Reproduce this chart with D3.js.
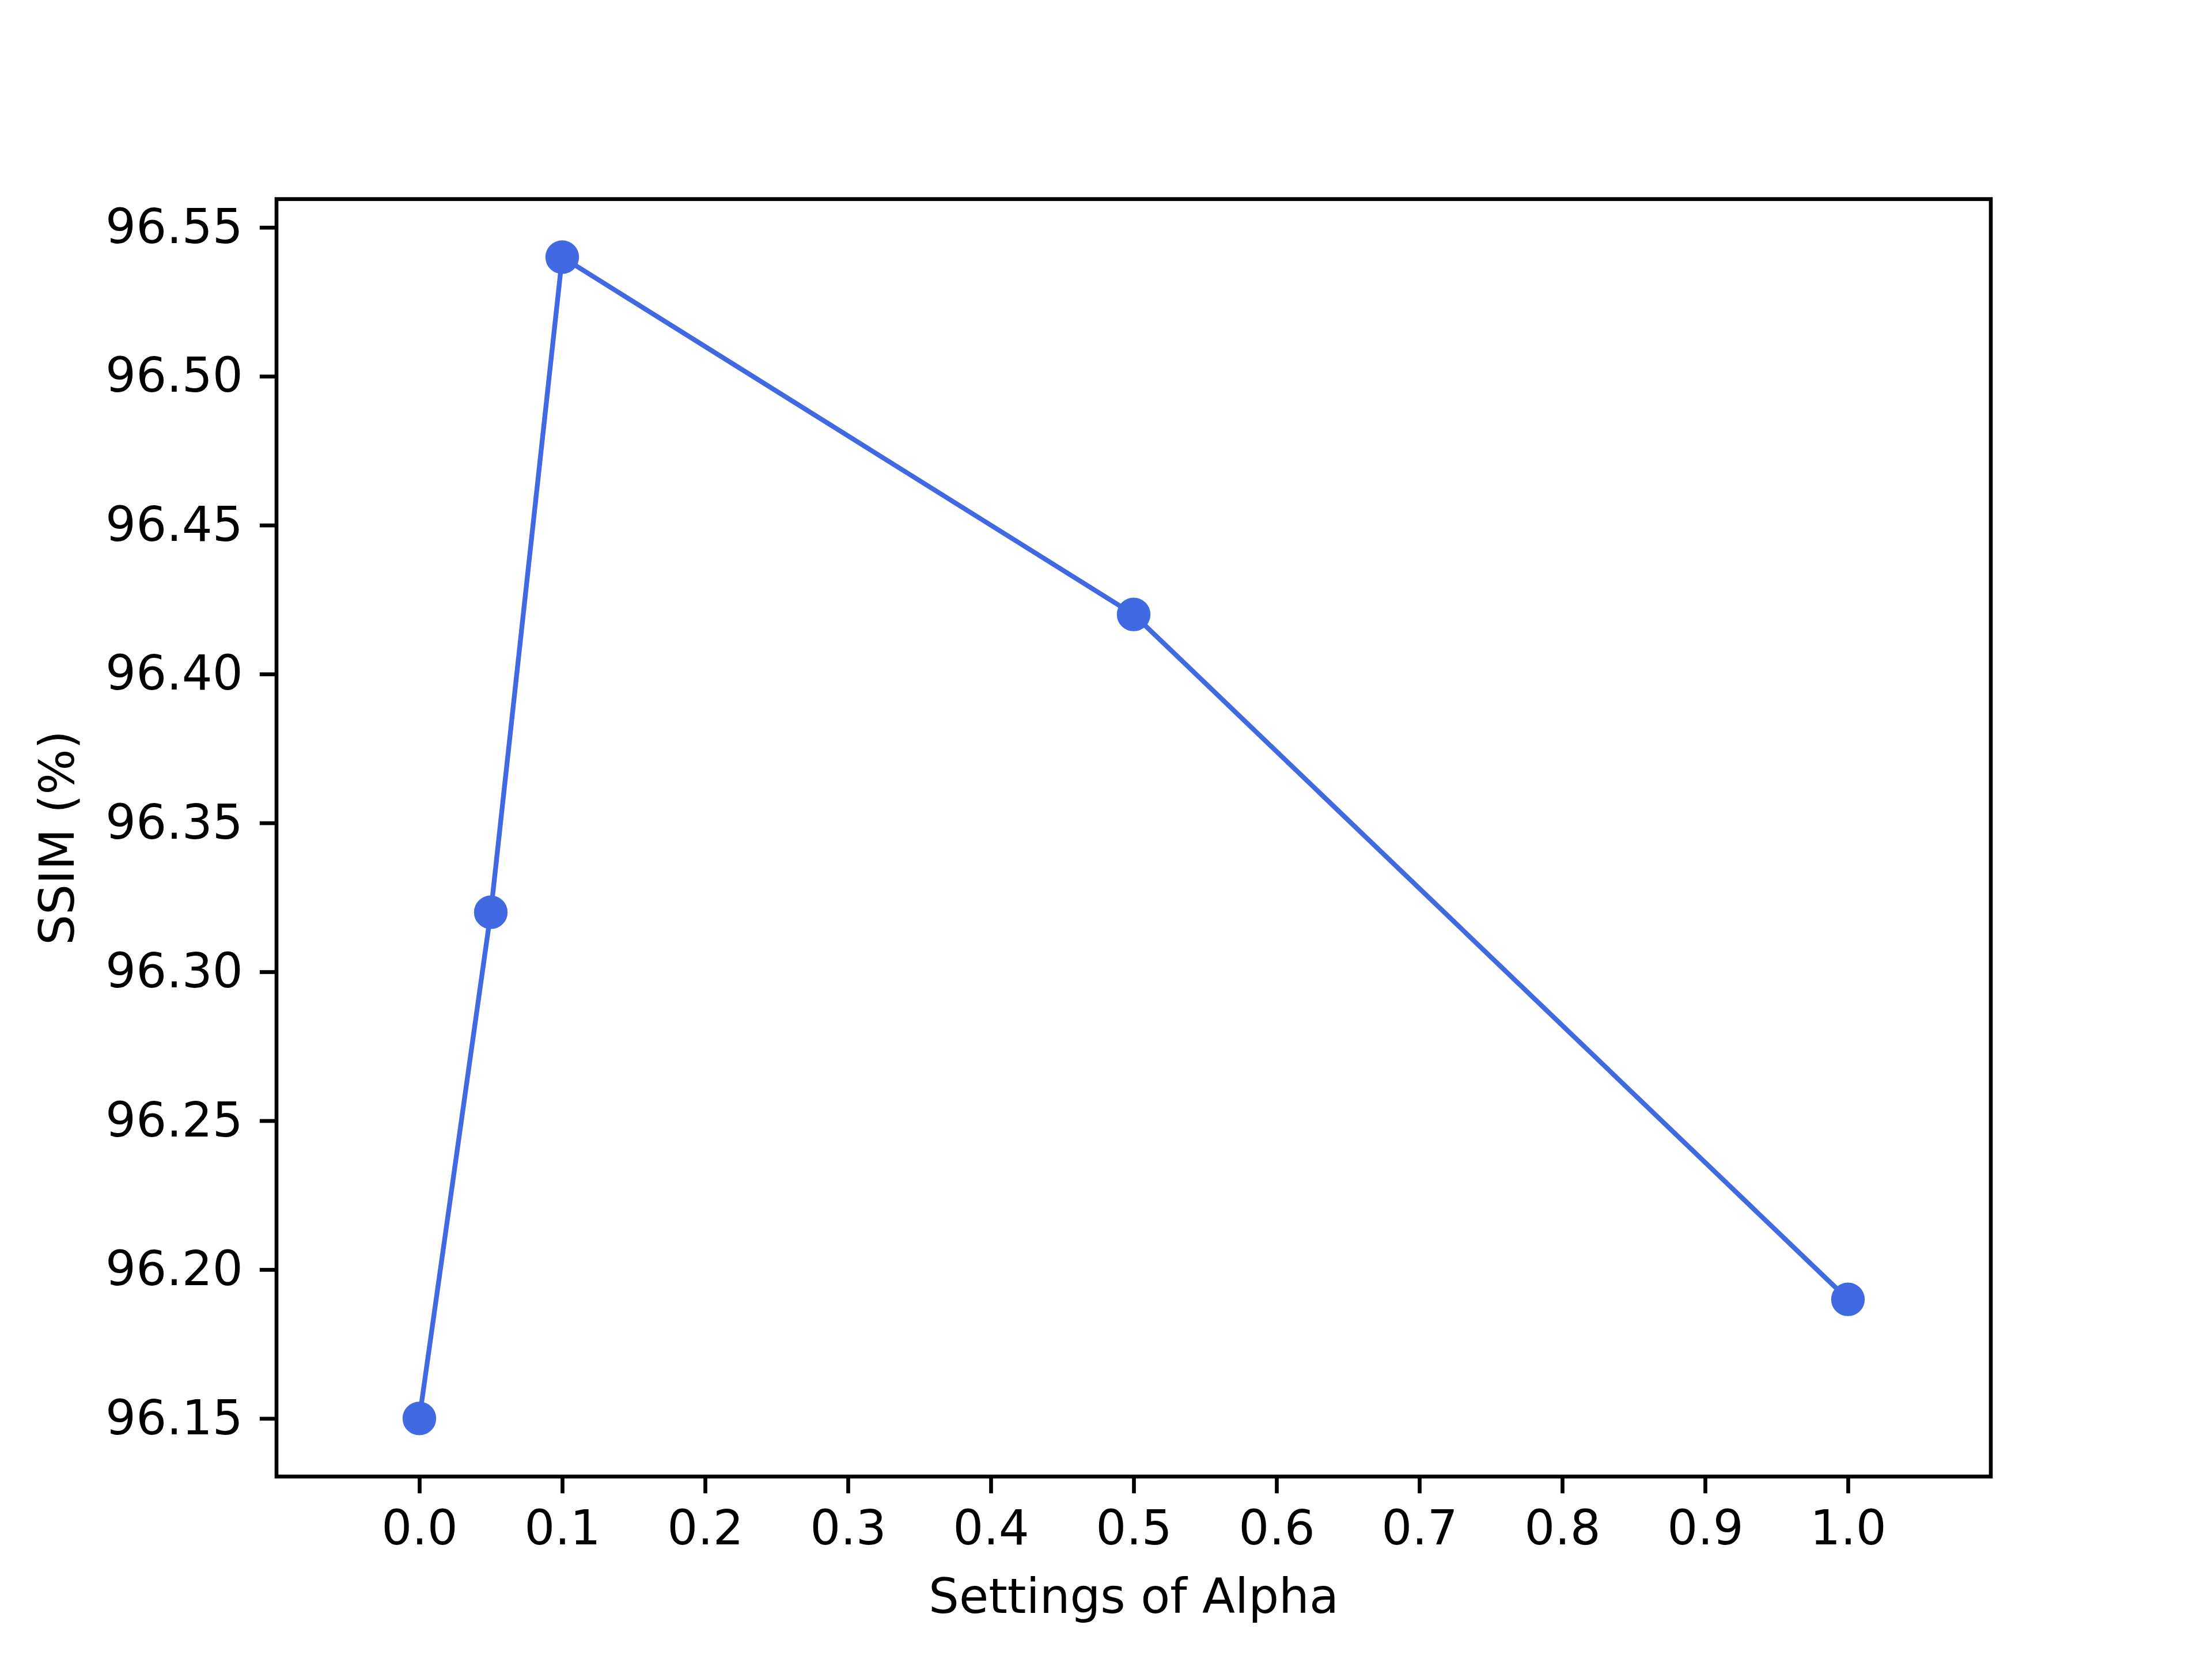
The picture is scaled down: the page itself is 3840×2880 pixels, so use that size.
<!DOCTYPE html>
<html>
<head>
<meta charset="utf-8">
<script src="https://cdn.jsdelivr.net/npm/d3@7/dist/d3.min.js"></script>
<style>
html,body{margin:0;padding:0;background:#fff;}
svg{display:block;}
text{font-family:"DejaVu Sans",sans-serif;}
</style>
</head>
<body>
<script>
const alphaValues = [0, 0.05, 0.1, 0.5, 1.0];
const ssimValues = [96.15, 96.32, 96.54, 96.42, 96.19];
const xTicks = [0.0, 0.1, 0.2, 0.3, 0.4, 0.5, 0.6, 0.7, 0.8, 0.9, 1.0];
const yTicks = [96.15, 96.20, 96.25, 96.30, 96.35, 96.40, 96.45, 96.50, 96.55];
const xLabel = "Settings of Alpha";
const yLabel = "SSIM (%)";

const W = 3840, H = 2880;
const m = {left: 480, right: 3456, top: 345.6, bottom: 2563.2};
const fs = 83.33;
const color = "#4169E1";

const svg = d3.select("body").append("svg").attr("width", W).attr("height", H);

const x = d3.scaleLinear().domain([-0.1, 1.1]).range([m.left, m.right]);
const yMin = d3.min(ssimValues), yMax = d3.max(ssimValues), pad = (yMax - yMin) * 0.05;
const y = d3.scaleLinear().domain([yMin - pad, yMax + pad]).range([m.bottom, m.top]);

const tickLen = 29.17, tickW = 6.67;

const xAxis = svg.append("g").attr("transform", `translate(0,${m.bottom})`)
  .call(d3.axisBottom(x).tickValues(xTicks).tickFormat(d3.format(".1f")).tickSize(tickLen).tickPadding(29.17));
const yAxis = svg.append("g").attr("transform", `translate(${m.left},0)`)
  .call(d3.axisLeft(y).tickValues(yTicks).tickFormat(d3.format(".2f")).tickSize(tickLen).tickPadding(29.17));
[xAxis, yAxis].forEach(a => {
  a.select(".domain").remove();
  a.selectAll(".tick line").attr("stroke", "#000").attr("stroke-width", tickW);
  a.selectAll(".tick text").attr("fill", "#000").style("font-size", fs + "px").style("font-family", "DejaVu Sans");
});

const line = d3.line().x((d, i) => x(alphaValues[i])).y(d => y(d));
svg.append("path").datum(ssimValues).attr("d", line)
  .attr("fill", "none").attr("stroke", color).attr("stroke-width", 8.33).attr("stroke-linejoin", "round");

svg.selectAll("circle.pt").data(ssimValues).enter().append("circle")
  .attr("cx", (d, i) => x(alphaValues[i])).attr("cy", d => y(d)).attr("r", 25)
  .attr("fill", color).attr("stroke", color).attr("stroke-width", 8.33);

svg.append("rect").attr("x", m.left).attr("y", m.top)
  .attr("width", m.right - m.left).attr("height", m.bottom - m.top)
  .attr("fill", "none").attr("stroke", "#000").attr("stroke-width", 6.67);

svg.append("text").attr("x", (m.left + m.right) / 2).attr("y", 2800)
  .attr("text-anchor", "middle").style("font-size", fs + "px").text(xLabel);
svg.append("text").attr("transform", `translate(128,${(m.top + m.bottom) / 2}) rotate(-90)`)
  .attr("text-anchor", "middle").style("font-size", fs + "px").text(yLabel);
</script>
</body>
</html>
